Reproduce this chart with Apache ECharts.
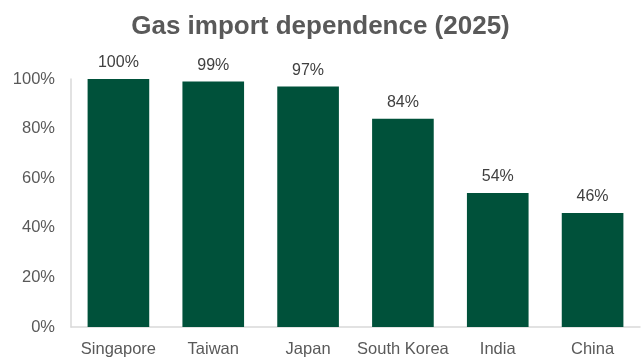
<!DOCTYPE html>
<html>
<head>
<meta charset="utf-8">
<script src="https://cdn.jsdelivr.net/npm/echarts@6/dist/echarts.min.js"></script>
<style>
  html, body { margin: 0; padding: 0; background: #fff; }
  #chart { width: 641px; height: 360px; }
</style>
</head>
<body>
<div id="chart"></div>
<script>
const countries = ["Singapore", "Taiwan", "Japan", "South Korea", "India", "China"];
const dependence = [100, 99, 97, 84, 54, 46];

const chart = echarts.init(document.getElementById("chart"));

const option = {
  animation: false,
  title: {
    text: "Gas import dependence (2025)",
    left: "center",
    top: 9,
    textStyle: {
      fontFamily: "Liberation Sans",
      fontSize: 26,
      fontWeight: "bold",
      color: "#595959",
    },
  },
  grid: {
    top: 79,
    bottom: 33,
    left: 71,
    right: 1,
  },
  xAxis: {
    type: "category",
    data: countries,
    axisTick: { show: false },
    axisLine: { show: true, lineStyle: { color: "#d9d9d9", width: 1.5 } },
    axisLabel: {
      fontFamily: "Liberation Sans",
      fontSize: 16.5,
      color: "#595959",
      margin: 14,
      interval: 0,
    },
  },
  yAxis: {
    type: "value",
    min: 0,
    max: 100,
    interval: 20,
    axisLine: { show: true, lineStyle: { color: "#d9d9d9", width: 1.5 } },
    axisTick: { show: false },
    splitLine: { show: false },
    axisLabel: {
      formatter: "{value}%",
      fontFamily: "Liberation Sans",
      fontSize: 16.5,
      color: "#595959",
      margin: 16,
    },
  },
  series: [
    {
      type: "bar",
      data: dependence,
      barCategoryGap: "35%",
      itemStyle: { color: "#00513A" },
      label: {
        show: true,
        position: "top",
        formatter: "{c}%",
        fontFamily: "Liberation Sans",
        fontSize: 16,
        color: "#404040",
        distance: 8,
      },
    },
  ],
};

chart.setOption(option);
</script>
</body>
</html>
